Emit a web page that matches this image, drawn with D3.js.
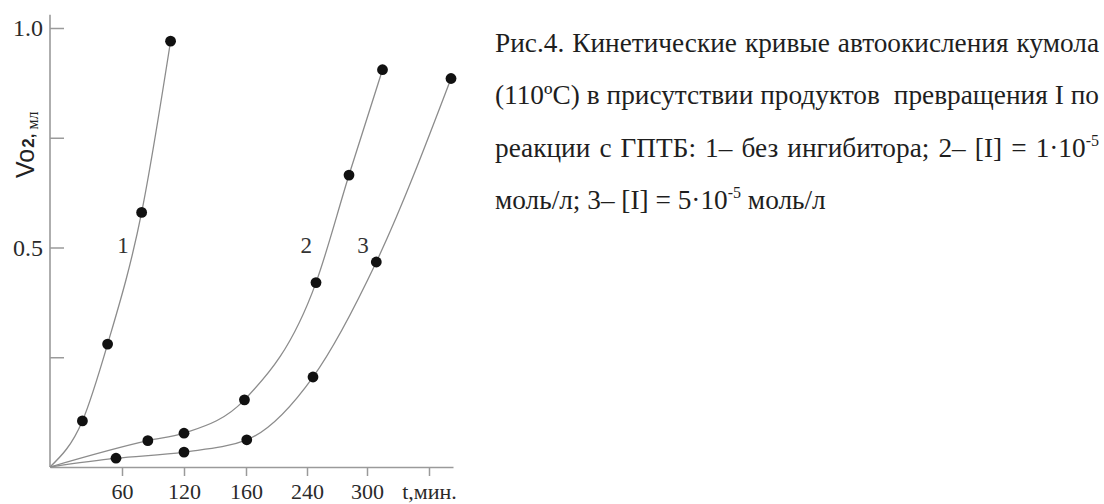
<!DOCTYPE html>
<html>
<head>
<meta charset="utf-8">
<script src="https://cdn.jsdelivr.net/npm/d3@7"></script>
<style>
  html, body { margin: 0; padding: 0; background: #fff; }
  svg { display: block; }
</style>
</head>
<body>
<svg id="chart" width="1104" height="504"></svg>
<script>
// ---- data ----
const xTickValues = [60, 120, 160, 240, 300, 360];
const xTickLabels = ["60", "120", "160", "240", "300", "t,мин."];
const yTickValues = [0.25, 0.5, 0.75, 1.0];
const yTickLabels = ["", "0.5", "", "1.0"];

// t (min), V O2 (ml)
const series1 = [[0, 0], [27, 0.105], [48, 0.28], [79, 0.58], [107, 0.97]];
const series2 = [[0, 0], [85, 0.06], [120, 0.077], [159, 0.153], [249, 0.42], [282, 0.665], [315, 0.905]];
const series3 = [[0, 0], [55, 0.02], [120, 0.034], [161, 0.062], [246, 0.205], [309, 0.467], [382, 0.885]];
const seriesNames = ["1", "2", "3"];
const seriesLabelPos = [[61, 0.506], [239, 0.506], [296, 0.506]];

const captionLines = [
  [{t: "Рис.4. Кинетические кривые автоокисления кумола"}],
  [{t: "(110ºC) в присутствии продуктов  превращения I по"}],
  [{t: "реакции с ГПТБ: 1– без ингибитора; 2– [I] = 1·10"}, {t: "-5", sup: true}],
  [{t: "моль/л; 3– [I] = 5·10"}, {t: "-5", sup: true}, {t: " моль/л"}]
];

// ---- layout ----
const svg = d3.select("#chart");
const axisColor = "#9a9a9a";
const serif = "'Liberation Serif', 'Times New Roman', serif";

// The original axis has equally spaced ticks with uneven labels -> piecewise scale
const x = d3.scaleLinear()
  .domain([0, 60, 120, 160, 240, 300, 360, 384])
  .range([50, 122, 184, 246, 307, 367, 429, 453]);
const y = d3.scaleLinear().domain([0, 1]).range([467, 28]);

// x axis
const xAxis = svg.append("g")
  .attr("transform", `translate(0,${y(0)})`)
  .call(d3.axisBottom(x).tickValues(xTickValues)
    .tickFormat((d, i) => xTickLabels[i]).tickSizeInner(9).tickSizeOuter(0).tickPadding(10));
xAxis.select(".domain").attr("stroke", axisColor).attr("stroke-width", 1.6);
xAxis.selectAll(".tick line").attr("stroke", axisColor).attr("stroke-width", 1.5);
xAxis.selectAll(".tick text")
  .attr("font-family", serif)
  .attr("font-size", 22).attr("fill", "#2a2a2a").attr("dy", null).attr("y", 32);

// y axis
const yAxis = svg.append("g")
  .attr("transform", `translate(${x(0)},0)`)
  .call(d3.axisLeft(y).tickValues(yTickValues)
    .tickFormat((d, i) => yTickLabels[i]).tickSizeInner(-14).tickSizeOuter(0).tickPadding(7));
yAxis.select(".domain").remove();
yAxis.append("line")
  .attr("x1", 0).attr("x2", 0).attr("y1", y(0)).attr("y2", y(1.03))
  .attr("stroke", axisColor).attr("stroke-width", 1.6);
yAxis.selectAll(".tick line").attr("stroke", axisColor).attr("stroke-width", 1.5);
yAxis.selectAll(".tick text")
  .attr("font-family", serif)
  .attr("font-size", 24).attr("fill", "#2a2a2a");

// y label
const yl = svg.append("text")
  .attr("transform", `translate(34,178) rotate(-90)`)
  .attr("fill", "#222");
yl.append("tspan").attr("font-family", "'Liberation Sans', Arial, sans-serif").attr("font-size", 25).text("Vo");
yl.append("tspan").attr("font-family", "'Liberation Sans', Arial, sans-serif").attr("font-size", 17).attr("font-weight", "bold").attr("dx", 1).text("2,");
yl.append("tspan").attr("font-family", serif).attr("font-size", 16).attr("dy", 4).text(" мл");

// curves
const line = d3.line().x(d => x(d[0])).y(d => y(d[1])).curve(d3.curveMonotoneX);
const allSeries = [series1, series2, series3];
allSeries.forEach((s, i) => {
  svg.append("path").datum(s)
    .attr("d", line).attr("fill", "none")
    .attr("stroke", "#8c8c8c").attr("stroke-width", 1.3);
  svg.append("g").selectAll("circle").data(s.slice(1)).join("circle")
    .attr("cx", d => x(d[0])).attr("cy", d => y(d[1])).attr("r", 5.4)
    .attr("fill", "#111");
  svg.append("text")
    .attr("x", x(seriesLabelPos[i][0])).attr("y", y(seriesLabelPos[i][1]))
    .attr("dy", "0.35em").attr("text-anchor", "middle")
    .attr("font-family", serif).attr("font-size", 23)
    .attr("fill", "#333").text(seriesNames[i]);
});

// caption
const capX = 495, capRight = 1099, capY0 = 52, capDY = 52.3;
captionLines.forEach((parts, li) => {
  const t = svg.append("text")
    .attr("x", capX).attr("y", capY0 + li * capDY)
    .attr("font-family", serif)
    .attr("font-size", 27.3).attr("fill", "#1e1e1e")
    .attr("xml:space", "preserve");
  parts.forEach((p, pi) => {
    const ts = t.append("tspan").text(p.t);
    if (p.sup) ts.attr("font-size", 16).attr("dy", -11);
    else if (pi > 0) ts.attr("dy", 11);
  });
  if (li < 3) {
    const w = t.node().getComputedTextLength();
    const n = parts.map(p => p.t).join("").split(" ").length - 1;
    t.attr("word-spacing", (capRight - capX - w) / n);
  }
});
</script>
</body>
</html>
